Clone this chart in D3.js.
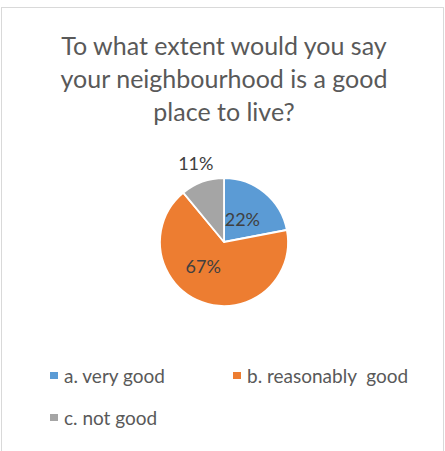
<!DOCTYPE html>
<html>
<head>
<meta charset="utf-8">
<script src="https://cdn.jsdelivr.net/npm/d3@7"></script>
<style>
  html, body { margin: 0; padding: 0; background: #fff; }
  svg { display: block; }
</style>
</head>
<body>
<svg id="chart" width="445" height="451"></svg>
<script>
// Survey responses (percent of respondents)
const categories = ["a. very good", "b. reasonably  good", "c. not good"];
const values = [22, 67, 11];
const colors = ["#5B9BD5", "#ED7D31", "#A5A5A5"];
const titleLines = ["To what extent would you say", "your neighbourhood is a good", "place to live?"];

const svg = d3.select("#chart");
const font = "Lato, 'Open Sans', sans-serif";

// chart frame
svg.append("rect")
  .attr("x", 1.5).attr("y", 7.5)
  .attr("width", 442).attr("height", 460)
  .attr("fill", "none").attr("stroke", "#d9d9d9").attr("stroke-width", 1);

// title
svg.append("g").selectAll("text")
  .data(titleLines)
  .join("text")
  .attr("x", 224)
  .attr("y", (d, i) => 55 + i * 33)
  .attr("text-anchor", "middle")
  .attr("font-family", font)
  .attr("font-size", 25)
  .attr("fill", "#595959")
  .text(d => d);

// pie
const cx = 224, cy = 242, r = 64;
const pie = d3.pie().sort(null).value(d => d.v);
const arcs = pie(values.map((v, i) => ({ v, i })));
const arc = d3.arc().innerRadius(0).outerRadius(r);

const g = svg.append("g").attr("transform", `translate(${cx},${cy})`);
g.selectAll("path")
  .data(arcs)
  .join("path")
  .attr("d", arc)
  .attr("fill", d => colors[d.data.i])
  .attr("stroke", "#fff")
  .attr("stroke-width", 1.8)
  .attr("stroke-linejoin", "round");

// data labels: placed along each slice's mid-angle; the small slice gets its label outside
const labelRadius = [0.45, 0.5, 1.3];
const labelNudge = [[0, 0], [-10, -5], [0, 0]];
g.selectAll("text")
  .data(arcs)
  .join("text")
  .attr("transform", d => {
    const k = labelRadius[d.data.i] * r;
    const c = d3.arc().innerRadius(k).outerRadius(k).centroid(d);
    const n = labelNudge[d.data.i];
    return `translate(${c[0] + n[0]},${c[1] + n[1]})`;
  })
  .attr("text-anchor", "middle")
  .attr("dy", "0.35em")
  .attr("font-family", font)
  .attr("font-size", 18)
  .attr("fill", "#404040")
  .text(d => d.data.v + "%");

// legend
const legendPos = [[50, 376], [233, 376], [50, 418]];
const lg = svg.append("g").selectAll("g")
  .data(categories)
  .join("g")
  .attr("transform", (d, i) => `translate(${legendPos[i][0]},${legendPos[i][1]})`);
lg.append("rect")
  .attr("x", 0).attr("y", -4)
  .attr("width", 8).attr("height", 7)
  .attr("fill", (d, i) => colors[i]);
lg.append("text")
  .attr("x", 14).attr("y", 0)
  .attr("dy", "0.35em")
  .attr("font-family", font)
  .attr("font-size", 19)
  .attr("fill", "#595959")
  .attr("xml:space", "preserve")
  .style("white-space", "pre")
  .text(d => d);
</script>
</body>
</html>
